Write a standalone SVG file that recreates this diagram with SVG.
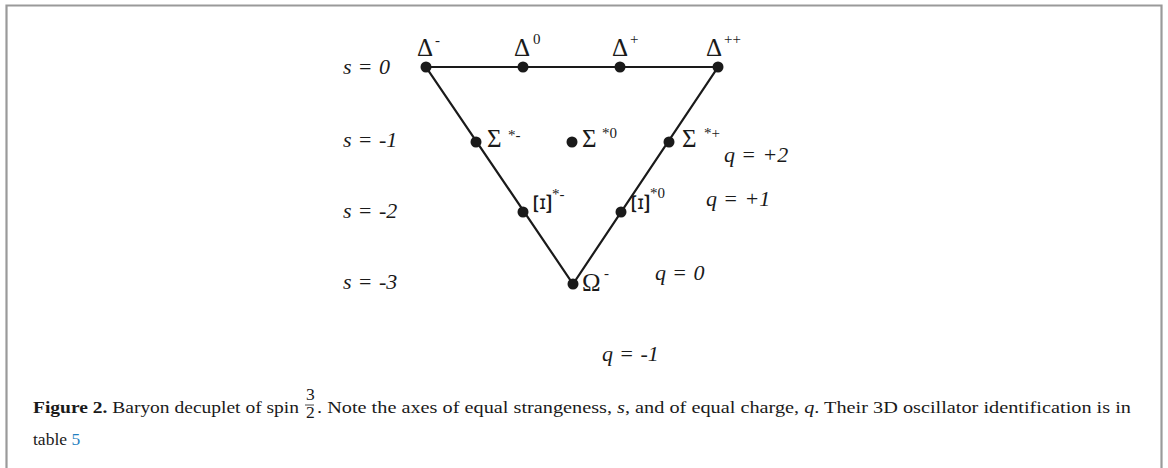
<svg xmlns="http://www.w3.org/2000/svg" width="1168" height="468" viewBox="0 0 1168 468">
<style>
.frame{fill:none;stroke:#9a9a9a;stroke-width:2.2}
.edge{stroke:#1a1a1a;stroke-width:2.2;fill:none;stroke-linecap:round}
.dot{fill:#1a1a1a}
.gk{font-family:"Liberation Serif","DejaVu Serif",serif;font-size:25px;fill:#1a1a1a}
.sup{font-family:"Liberation Serif","DejaVu Serif",serif;font-size:15px;fill:#1a1a1a}
.ax{font-family:"Liberation Serif","DejaVu Serif",serif;font-size:22px;font-style:italic;fill:#1a1a1a;word-spacing:2px}
.ax tspan.n{font-style:normal}
.cap{font-family:"Liberation Serif","DejaVu Serif",serif;font-size:17.5px;fill:#1a1a1a}
</style>
<path class="frame" d="M6.5,470 V5.5 H1161.5 V470"/>
<g id="connectors">
<path class="edge" d="M426,67 H718 L573,284 Z"/>
</g>
<g id="delta-minus"><circle class="dot" cx="426" cy="67" r="5.5"/><text class="gk" x="417" y="56">Δ</text><text class="sup" x="435" y="45">-</text></g>
<g id="delta-0"><circle class="dot" cx="523" cy="67" r="5.5"/><text class="gk" x="514" y="56">Δ</text><text class="sup" x="533" y="44">0</text></g>
<g id="delta-plus"><circle class="dot" cx="620" cy="67" r="5.5"/><text class="gk" x="612" y="56">Δ</text><text class="sup" x="630" y="44">+</text></g>
<g id="delta-plusplus"><circle class="dot" cx="718" cy="67" r="5.5"/><text class="gk" x="706" y="56">Δ</text><text class="sup" x="724" y="44">++</text></g>
<g id="sigma-minus"><circle class="dot" cx="476" cy="142" r="5.5"/><text class="gk" x="487" y="147">Σ</text><text class="sup" x="508" y="140">*-</text></g>
<g id="sigma-0"><circle class="dot" cx="572" cy="142" r="5.5"/><text class="gk" x="582" y="147">Σ</text><text class="sup" x="602" y="138">*0</text></g>
<g id="sigma-plus"><circle class="dot" cx="669" cy="142" r="5.5"/><text class="gk" x="682" y="147">Σ</text><text class="sup" x="704" y="138">*+</text></g>
<g id="xi-minus"><circle class="dot" cx="523" cy="212" r="5.5"/><text class="gk" transform="translate(551,215) rotate(-90) scale(1.4,1)" x="0" y="0">Ξ</text><text class="sup" x="552" y="199">*-</text></g>
<g id="xi-0"><circle class="dot" cx="621" cy="212" r="5.5"/><text class="gk" transform="translate(649,215) rotate(-90) scale(1.4,1)" x="0" y="0">Ξ</text><text class="sup" x="650" y="198">*0</text></g>
<g id="omega-minus"><circle class="dot" cx="573" cy="284" r="5.5"/><text class="gk" x="582" y="291">Ω</text><text class="sup" x="604" y="278">-</text></g>
<g id="s-axes">
<text class="ax" x="343" y="74">s <tspan class="n">=</tspan> 0</text>
<text class="ax" x="343" y="147">s <tspan class="n">=</tspan> -1</text>
<text class="ax" x="343" y="218">s <tspan class="n">=</tspan> -2</text>
<text class="ax" x="343" y="289">s <tspan class="n">=</tspan> -3</text>
</g>
<g id="q-axes">
<text class="ax" x="724" y="162">q <tspan class="n">=</tspan> +2</text>
<text class="ax" x="706" y="206">q <tspan class="n">=</tspan> +1</text>
<text class="ax" x="655" y="280">q <tspan class="n">=</tspan> 0</text>
<text class="ax" x="602" y="361">q <tspan class="n">=</tspan> -1</text>
</g>
<g id="caption">
<text class="cap" x="33" y="413" textLength="266" lengthAdjust="spacingAndGlyphs"><tspan font-weight="bold">Figure 2.</tspan> Baryon decuplet of spin</text>
<text class="cap" x="306" y="400" font-size="11">3</text>
<line x1="305" y1="405" x2="314" y2="405" stroke="#1a1a1a" stroke-width="0.8"/>
<text class="cap" x="306" y="418" font-size="11">2</text>
<text class="cap" x="317" y="413" textLength="814" lengthAdjust="spacingAndGlyphs">. Note the axes of equal strangeness, <tspan font-style="italic">s</tspan>, and of equal charge, <tspan font-style="italic">q</tspan>. Their 3D oscillator identification is in</text>
<text class="cap" x="33" y="445">table <tspan fill="#1f7fc0">5</tspan></text>
</g>
</svg>
